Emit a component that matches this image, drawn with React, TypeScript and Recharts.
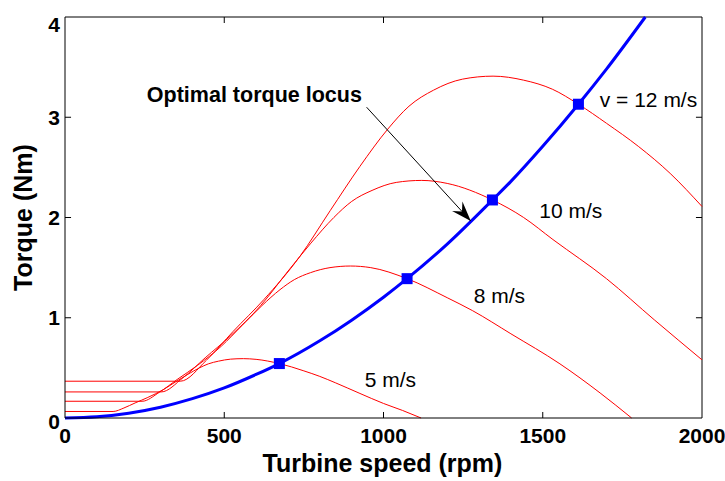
import React from "react";
import {
  ComposedChart,
  Line,
  Scatter,
  XAxis,
  YAxis,
  Label,
  ReferenceDot,
  ReferenceLine,
} from "recharts";

const FONT = '"Liberation Sans", Arial, Helvetica, sans-serif';

// turbine speed (rpm) / torque (Nm)
const v5 = [
  [0, 0.065], [151, 0.065], [185, 0.1], [220, 0.15], [260, 0.205], [307, 0.28],
  [347, 0.36], [386, 0.436], [422, 0.5], [450, 0.54], [482, 0.567], [520, 0.587],
  [560, 0.592], [600, 0.585], [673, 0.543], [750, 0.47], [800, 0.415], [850, 0.35],
  [926, 0.245], [1000, 0.145], [1060, 0.075], [1118, 0],
];
const v8 = [
  [0, 0.167], [242, 0.167], [296, 0.256], [352, 0.384], [416, 0.525], [491, 0.717],
  [555, 0.92], [618, 1.12], [675, 1.28], [720, 1.38], [771, 1.45], [832, 1.5],
  [896, 1.516], [960, 1.5], [1074, 1.39], [1200, 1.2], [1280, 1.07], [1400, 0.84],
  [1554, 0.54], [1680, 0.25], [1779, 0],
];
const v10 = [
  [0, 0.26], [302, 0.26], [370, 0.4], [440, 0.6], [520, 0.82], [614, 1.12],
  [694, 1.44], [772, 1.744], [844, 2.0], [900, 2.16], [964, 2.27], [1040, 2.35],
  [1120, 2.37], [1200, 2.34], [1342, 2.175], [1440, 2.0], [1532, 1.78], [1700, 1.39],
  [1850, 0.98], [2000, 0.58],
];
const v12 = [
  [0, 0.367], [362, 0.367], [444, 0.576], [528, 0.864], [624, 1.18], [737, 1.61],
  [833, 2.07], [926, 2.51], [1013, 2.88], [1080, 3.11], [1157, 3.27], [1248, 3.38],
  [1344, 3.41], [1440, 3.37], [1530, 3.28], [1612, 3.13], [1700, 2.94], [1800, 2.71],
  [1900, 2.44], [2000, 2.11],
];
const optimal = [
  [0, 0], [100, 0.012], [200, 0.048], [300, 0.108], [400, 0.193], [500, 0.3],
  [600, 0.434], [673, 0.543], [800, 0.77], [900, 0.976], [1000, 1.205], [1074, 1.39],
  [1200, 1.735], [1342, 2.175], [1400, 2.36], [1500, 2.71], [1612, 3.13], [1700, 3.48],
  [1822, 4.0],
];
const markers = [[673, 0.543], [1074, 1.39], [1342, 2.175], [1612, 3.13]];

const xTicks = [0, 500, 1000, 1500, 2000];
const yTicks = [0, 1, 2, 3, 4];

const toPts = (arr: number[][]) => arr.map(([x, t]) => ({ x, t }));
const curves = [v5, v8, v10, v12].map(toPts);

const notes = [
  { x: 1679, t: 3.107, text: "v = 12 m/s" },
  { x: 1489, t: 1.992, text: "10 m/s" },
  { x: 1283, t: 1.143, text: "8 m/s" },
  { x: 941, t: 0.31, text: "5 m/s" },
];

// inward tick length, in axis units (about 6px)
const TX = 19;
const TY = 0.06;

function YTick({ x, y, payload }: any) {
  const shift = payload.value === 4 ? 7 : payload.value === 0 ? 3 : 0;
  return (
    <text x={x} y={y + shift} dy={7.5} textAnchor="end" fill="#000" fontSize={21} fontWeight="bold" fontFamily={FONT}>
      {payload.value}
    </text>
  );
}

function XLabel({ viewBox }: any) {
  return (
    <text x={viewBox.x + viewBox.width / 2 - 1} y={472} textAnchor="middle" fill="#000" fontSize={25} fontWeight="bold" fontFamily={FONT}>
      Turbine speed (rpm)
    </text>
  );
}

function YLabel({ viewBox }: any) {
  const cy = viewBox.y + viewBox.height / 2;
  return (
    <text x={32} y={cy} transform={`rotate(-90, 32, ${cy})`} textAnchor="middle" fill="#000" fontSize={25} fontWeight="bold" fontFamily={FONT}>
      Torque (Nm)
    </text>
  );
}

const Square = ({ cx, cy }: any) => <rect x={cx - 5.5} y={cy - 5.5} width={11} height={11} fill="#0000ff" />;

export default function App() {
  const inner = xTicks.slice(1, -1);
  const innerY = yTicks.slice(1, -1);
  return (
    <div style={{ position: "absolute", left: 0, top: 0, background: "#fff" }}>
      <ComposedChart width={725} height={481} margin={{ top: 17, right: 23, bottom: 0, left: 0 }}>
        <XAxis
          dataKey="x"
          type="number"
          domain={[0, 2000]}
          ticks={xTicks}
          height={63}
          tickSize={0}
          tickLine={false}
          tickMargin={10}
          stroke="#000"
          tick={{ fill: "#000", fontSize: 21, fontWeight: "bold", fontFamily: FONT }}
        >
          <Label content={XLabel} />
        </XAxis>
        <YAxis type="number" domain={[0, 4]} ticks={yTicks} width={65} tickSize={0} tickLine={false} tickMargin={5} stroke="#000" tick={<YTick />}>
          <Label content={YLabel} />
        </YAxis>

        {/* frame and inward ticks */}
        <ReferenceLine y={4} stroke="#000" strokeWidth={1} />
        <ReferenceLine x={2000} stroke="#000" strokeWidth={1} />
        {inner.map((x) => (
          <ReferenceLine key={"b" + x} segment={[{ x, y: 0 }, { x, y: TY }]} stroke="#000" />
        ))}
        {inner.map((x) => (
          <ReferenceLine key={"t" + x} segment={[{ x, y: 4 }, { x, y: 4 - TY }]} stroke="#000" />
        ))}
        {innerY.map((y) => (
          <ReferenceLine key={"l" + y} segment={[{ x: 0, y }, { x: TX, y }]} stroke="#000" />
        ))}
        {innerY.map((y) => (
          <ReferenceLine key={"r" + y} segment={[{ x: 2000, y }, { x: 2000 - TX, y }]} stroke="#000" />
        ))}

        {curves.map((d, i) => (
          <Line key={i} data={d} dataKey="t" type="monotone" stroke="#ff0000" strokeWidth={1} dot={false} activeDot={false} isAnimationActive={false} />
        ))}
        <Line data={toPts(optimal)} dataKey="t" type="monotone" stroke="#0000ff" strokeWidth={3} dot={false} activeDot={false} isAnimationActive={false} />
        <Scatter data={toPts(markers)} dataKey="t" shape={Square} isAnimationActive={false} />

        <ReferenceLine segment={[{ x: 947, y: 3.1 }, { x: 1274, y: 1.965 }]} stroke="#000" strokeWidth={1} />
        <ReferenceDot
          x={1274}
          y={1.965}
          r={0}
          shape={(p: any) => (
            <polygon points="0,0 -20,-7 -13,0 -20,7" transform={`translate(${p.cx},${p.cy}) rotate(47.5)`} fill="#000" />
          )}
        />
        <ReferenceDot
          x={257}
          y={3.157}
          r={0}
          shape={(p: any) => (
            <text x={p.cx} y={p.cy} fill="#000" fontSize={21.5} fontWeight="bold" fontFamily={FONT}>
              Optimal torque locus
            </text>
          )}
        />
        {notes.map((n) => (
          <ReferenceDot
            key={n.text}
            x={n.x}
            y={n.t}
            r={0}
            shape={(p: any) => (
              <text x={p.cx} y={p.cy} fill="#000" fontSize={21} fontFamily={FONT}>
                {n.text}
              </text>
            )}
          />
        ))}
      </ComposedChart>
    </div>
  );
}
